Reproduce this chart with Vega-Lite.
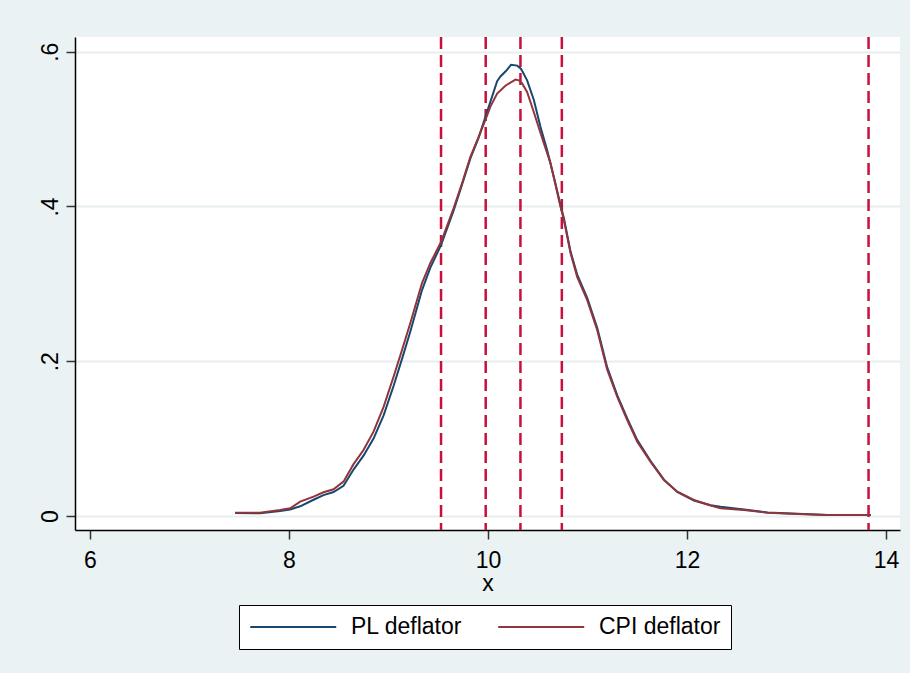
{
  "$schema": "https://vega.github.io/schema/vega-lite/v6.json",
  "width": 825,
  "height": 493,
  "autosize": {"type": "none"},
  "padding": {"left": 75, "top": 37, "right": 10, "bottom": 143},
  "background": "#EAF2F3",
  "config": {
    "view": {"fill": "white", "stroke": null},
    "font": "Liberation Sans",
    "axis": {
      "labelFont": "Liberation Sans",
      "titleFont": "Liberation Sans",
      "labelFontSize": 23,
      "titleFontSize": 23,
      "titleFontWeight": "normal",
      "labelColor": "black",
      "titleColor": "black",
      "domainColor": "black",
      "domainWidth": 1.5,
      "tickColor": "#333333",
      "tickWidth": 1.5,
      "tickSize": 9
    }
  },
  "datasets": {
    "vlines": [
      {"x": 9.528},
      {"x": 9.977},
      {"x": 10.326},
      {"x": 10.742},
      {"x": 13.824}
    ],
    "density": [
      {"series": "PL deflator", "x": 7.459, "y": 0.004},
      {"series": "PL deflator", "x": 7.71, "y": 0.0035},
      {"series": "PL deflator", "x": 7.911, "y": 0.0065},
      {"series": "PL deflator", "x": 8.012, "y": 0.0085},
      {"series": "PL deflator", "x": 8.113, "y": 0.0125},
      {"series": "PL deflator", "x": 8.247, "y": 0.021},
      {"series": "PL deflator", "x": 8.347, "y": 0.027},
      {"series": "PL deflator", "x": 8.448, "y": 0.031},
      {"series": "PL deflator", "x": 8.548, "y": 0.039},
      {"series": "PL deflator", "x": 8.649, "y": 0.06},
      {"series": "PL deflator", "x": 8.749, "y": 0.078},
      {"series": "PL deflator", "x": 8.85, "y": 0.1},
      {"series": "PL deflator", "x": 8.951, "y": 0.13},
      {"series": "PL deflator", "x": 9.051, "y": 0.168},
      {"series": "PL deflator", "x": 9.136, "y": 0.203},
      {"series": "PL deflator", "x": 9.219, "y": 0.238},
      {"series": "PL deflator", "x": 9.337, "y": 0.292},
      {"series": "PL deflator", "x": 9.421, "y": 0.321},
      {"series": "PL deflator", "x": 9.528, "y": 0.35},
      {"series": "PL deflator", "x": 9.655, "y": 0.395},
      {"series": "PL deflator", "x": 9.739, "y": 0.428},
      {"series": "PL deflator", "x": 9.823, "y": 0.462},
      {"series": "PL deflator", "x": 9.906, "y": 0.489},
      {"series": "PL deflator", "x": 9.974, "y": 0.516},
      {"series": "PL deflator", "x": 10.041, "y": 0.542},
      {"series": "PL deflator", "x": 10.092, "y": 0.562},
      {"series": "PL deflator", "x": 10.125, "y": 0.568},
      {"series": "PL deflator", "x": 10.18, "y": 0.575},
      {"series": "PL deflator", "x": 10.231, "y": 0.583},
      {"series": "PL deflator", "x": 10.294, "y": 0.582},
      {"series": "PL deflator", "x": 10.33, "y": 0.578},
      {"series": "PL deflator", "x": 10.348, "y": 0.574},
      {"series": "PL deflator", "x": 10.393, "y": 0.563},
      {"series": "PL deflator", "x": 10.46, "y": 0.538},
      {"series": "PL deflator", "x": 10.527, "y": 0.503},
      {"series": "PL deflator", "x": 10.594, "y": 0.473},
      {"series": "PL deflator", "x": 10.677, "y": 0.43},
      {"series": "PL deflator", "x": 10.728, "y": 0.402},
      {"series": "PL deflator", "x": 10.762, "y": 0.385},
      {"series": "PL deflator", "x": 10.829, "y": 0.342},
      {"series": "PL deflator", "x": 10.896, "y": 0.312},
      {"series": "PL deflator", "x": 10.997, "y": 0.282},
      {"series": "PL deflator", "x": 11.098, "y": 0.243},
      {"series": "PL deflator", "x": 11.198, "y": 0.192},
      {"series": "PL deflator", "x": 11.299, "y": 0.156},
      {"series": "PL deflator", "x": 11.399, "y": 0.126},
      {"series": "PL deflator", "x": 11.5, "y": 0.098},
      {"series": "PL deflator", "x": 11.634, "y": 0.071},
      {"series": "PL deflator", "x": 11.768, "y": 0.047},
      {"series": "PL deflator", "x": 11.902, "y": 0.031},
      {"series": "PL deflator", "x": 12.069, "y": 0.02},
      {"series": "PL deflator", "x": 12.237, "y": 0.014},
      {"series": "PL deflator", "x": 12.338, "y": 0.012},
      {"series": "PL deflator", "x": 12.572, "y": 0.0085},
      {"series": "PL deflator", "x": 12.808, "y": 0.0045},
      {"series": "PL deflator", "x": 13.11, "y": 0.0028},
      {"series": "PL deflator", "x": 13.411, "y": 0.0014},
      {"series": "PL deflator", "x": 13.847, "y": 0.0012},
      {"series": "CPI deflator", "x": 7.459, "y": 0.0043},
      {"series": "CPI deflator", "x": 7.71, "y": 0.0043},
      {"series": "CPI deflator", "x": 7.911, "y": 0.0078},
      {"series": "CPI deflator", "x": 8.012, "y": 0.0099},
      {"series": "CPI deflator", "x": 8.113, "y": 0.0185},
      {"series": "CPI deflator", "x": 8.247, "y": 0.025},
      {"series": "CPI deflator", "x": 8.347, "y": 0.0306},
      {"series": "CPI deflator", "x": 8.448, "y": 0.0345},
      {"series": "CPI deflator", "x": 8.548, "y": 0.0444},
      {"series": "CPI deflator", "x": 8.649, "y": 0.067},
      {"series": "CPI deflator", "x": 8.749, "y": 0.0853},
      {"series": "CPI deflator", "x": 8.85, "y": 0.109},
      {"series": "CPI deflator", "x": 8.951, "y": 0.141},
      {"series": "CPI deflator", "x": 9.051, "y": 0.18},
      {"series": "CPI deflator", "x": 9.136, "y": 0.2145},
      {"series": "CPI deflator", "x": 9.219, "y": 0.249},
      {"series": "CPI deflator", "x": 9.337, "y": 0.301},
      {"series": "CPI deflator", "x": 9.421, "y": 0.327},
      {"series": "CPI deflator", "x": 9.528, "y": 0.354},
      {"series": "CPI deflator", "x": 9.655, "y": 0.398},
      {"series": "CPI deflator", "x": 9.739, "y": 0.43},
      {"series": "CPI deflator", "x": 9.823, "y": 0.464},
      {"series": "CPI deflator", "x": 9.906, "y": 0.49},
      {"series": "CPI deflator", "x": 9.974, "y": 0.512},
      {"series": "CPI deflator", "x": 10.024, "y": 0.529},
      {"series": "CPI deflator", "x": 10.092, "y": 0.546},
      {"series": "CPI deflator", "x": 10.175, "y": 0.556},
      {"series": "CPI deflator", "x": 10.276, "y": 0.564},
      {"series": "CPI deflator", "x": 10.31, "y": 0.563},
      {"series": "CPI deflator", "x": 10.343, "y": 0.559},
      {"series": "CPI deflator", "x": 10.393, "y": 0.548},
      {"series": "CPI deflator", "x": 10.46, "y": 0.522},
      {"series": "CPI deflator", "x": 10.56, "y": 0.482},
      {"series": "CPI deflator", "x": 10.628, "y": 0.456},
      {"series": "CPI deflator", "x": 10.728, "y": 0.4},
      {"series": "CPI deflator", "x": 10.762, "y": 0.383},
      {"series": "CPI deflator", "x": 10.829, "y": 0.34},
      {"series": "CPI deflator", "x": 10.896, "y": 0.309},
      {"series": "CPI deflator", "x": 10.997, "y": 0.279},
      {"series": "CPI deflator", "x": 11.098, "y": 0.24},
      {"series": "CPI deflator", "x": 11.198, "y": 0.189},
      {"series": "CPI deflator", "x": 11.299, "y": 0.154},
      {"series": "CPI deflator", "x": 11.399, "y": 0.124},
      {"series": "CPI deflator", "x": 11.5, "y": 0.096},
      {"series": "CPI deflator", "x": 11.634, "y": 0.07},
      {"series": "CPI deflator", "x": 11.768, "y": 0.0465},
      {"series": "CPI deflator", "x": 11.902, "y": 0.0314},
      {"series": "CPI deflator", "x": 12.069, "y": 0.0207},
      {"series": "CPI deflator", "x": 12.237, "y": 0.0135},
      {"series": "CPI deflator", "x": 12.338, "y": 0.0099},
      {"series": "CPI deflator", "x": 12.572, "y": 0.0078},
      {"series": "CPI deflator", "x": 12.808, "y": 0.0043},
      {"series": "CPI deflator", "x": 13.11, "y": 0.0026},
      {"series": "CPI deflator", "x": 13.411, "y": 0.0013},
      {"series": "CPI deflator", "x": 13.847, "y": 0.0013}
    ]
  },
  "layer": [
    {
      "data": {"name": "vlines"},
      "mark": {"type": "rule", "color": "#C8103C", "strokeWidth": 2.5, "strokeDash": [12, 6]},
      "encoding": {
        "x": {"field": "x", "type": "quantitative", "title": "x"}
      }
    },
    {
      "data": {"name": "density"},
      "mark": {"type": "line", "strokeWidth": 2, "interpolate": "linear"},
      "encoding": {
        "x": {
          "field": "x",
          "type": "quantitative",
          "title": "x",
          "scale": {"domain": [5.85, 14.14], "nice": false, "zero": false},
          "axis": {
            "values": [6, 8, 10, 12, 14],
            "format": "d",
            "grid": false,
            "labelPadding": 10,
            "titlePadding": 18,
            "titleBaseline": "alphabetic"
          }
        },
        "y": {
          "field": "y",
          "type": "quantitative",
          "scale": {"domain": [-0.0181, 0.619], "nice": false, "zero": false},
          "axis": {
            "title": null,
            "values": [0, 0.2, 0.4, 0.6],
            "grid": true,
            "gridColor": "#E6EEF0",
            "gridWidth": 2,
            "labelAngle": -90,
            "labelAlign": "center",
            "labelBaseline": "alphabetic",
            "labelPadding": 9,
            "labelExpr": "datum.value === 0 ? '0' : replace(format(datum.value, '.1f'), '0.', '.')"
          }
        },
        "color": {
          "field": "series",
          "type": "nominal",
          "sort": ["PL deflator", "CPI deflator"],
          "scale": {"domain": ["PL deflator", "CPI deflator"], "range": ["#1A476F", "#90353B"]},
          "legend": {
            "title": null,
            "orient": "none",
            "legendX": 164,
            "legendY": 568,
            "direction": "horizontal",
            "symbolType": "M-1,0H7",
            "symbolSize": 462,
            "symbolStrokeWidth": 2,
            "labelFont": "Liberation Sans",
            "labelFontSize": 23,
            "labelColor": "black",
            "labelOffset": 78,
            "labelLimit": 300,
            "columnPadding": 31,
            "padding": 10,
            "strokeColor": "black",
            "fillColor": "white"
          }
        }
      }
    }
  ]
}
